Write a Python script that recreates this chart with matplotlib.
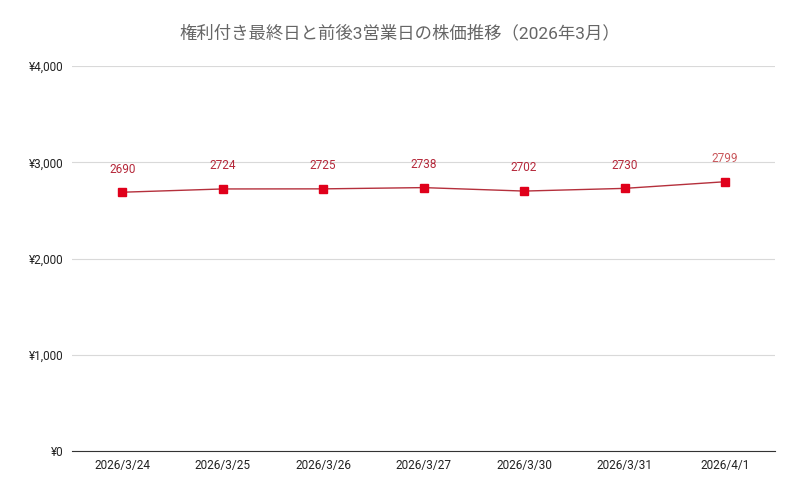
import matplotlib
matplotlib.use("Agg")
import matplotlib.pyplot as plt
from matplotlib.ticker import FuncFormatter

plt.rcParams['font.family'] = ['Roboto', 'Noto Sans CJK JP', 'DejaVu Sans']

dates = ['2026/3/24', '2026/3/25', '2026/3/26', '2026/3/27', '2026/3/30', '2026/3/31', '2026/4/1']
prices = [2690, 2724, 2725, 2738, 2702, 2730, 2799]
title = '権利付き最終日と前後3営業日の株価推移（2026年3月）'

fig = plt.figure(figsize=(8, 4.94), dpi=100)
ax = fig.add_axes([0.09, 0.087, 0.879, 0.779])

x = list(range(len(dates)))
ax.plot(x, prices, color='#b5303c', linewidth=1.0, marker='s', markersize=6,
        markerfacecolor='#e0001b', markeredgecolor='#e0001b', zorder=3)

for i, v in enumerate(prices):
    col = '#c9575b' if i == len(prices) - 1 else '#b5283a'
    ax.annotate(str(v), (i, v), xytext=(0, 12), textcoords='offset points',
                ha='center', va='bottom', fontsize=8.5, color=col)

ax.set_xlim(-0.5, len(dates) - 0.5)
ax.set_ylim(0, 4000)
ax.set_yticks([0, 1000, 2000, 3000, 4000])
ax.yaxis.set_major_formatter(FuncFormatter(lambda v, p: '¥{:,.0f}'.format(v)))
ax.set_xticks(x)
ax.set_xticklabels(dates)

ax.grid(axis='y', color='#d9d9d9', linewidth=0.8)
ax.set_axisbelow(True)
for s in ['top', 'right', 'left']:
    ax.spines[s].set_visible(False)
ax.spines['bottom'].set_color('#333333')
ax.tick_params(axis='both', length=0, labelsize=8.5, colors='#222222')
ax.tick_params(axis='x', pad=6)
ax.tick_params(axis='y', pad=6)

fig.text(0.5, 0.933, title, ha='center', va='center', fontsize=12.5, color='#666666')

fig.savefig('out.png', dpi=100, facecolor='white')
